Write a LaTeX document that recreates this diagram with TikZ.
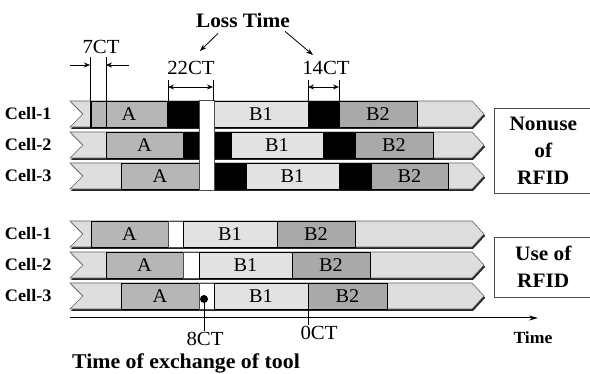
\documentclass[tikz,border=0pt]{standalone}
\usepackage{fontspec}
\setmainfont{Liberation Serif}[FakeStretch=1.04]
\usetikzlibrary{arrows.meta}
\definecolor{barfill}{HTML}{DEDEDE}
\definecolor{partA}{HTML}{B6B6B6}
\definecolor{partBone}{HTML}{E2E2E2}
\definecolor{partBtwo}{HTML}{A9A9A9}

\begin{document}
\begin{tikzpicture}[x=1pt, y=-1pt,
        seg/.style={draw=black, line width=0.8pt, minimum height=26pt, inner sep=0pt,
            font=\fontsize{19.5}{20}\selectfont},
        idle/.style={seg, fill=black},
        gap/.style={seg, fill=white, draw=black!70, line width=0.5pt},
        cell/.style={anchor=east, font=\fontsize{17.5}{19}\selectfont\bfseries},
        ct/.style={inner sep=1pt, font=\fontsize{20}{22}\selectfont},
        dim/.style={{Stealth[length=6pt,width=5pt]}-{Stealth[length=6pt,width=5pt]}, line width=0.8pt},
        ext/.style={line width=0.4pt},
        heading/.style={inner sep=1pt, font=\fontsize{20.5}{22}\selectfont\bfseries},
        side/.style={draw=black!70, line width=0.6pt, align=center, anchor=north west,
            font=\fontsize{20.5}{27}\selectfont\bfseries}]
        \useasboundingbox (0,0) rectangle (590,374);

        % time bars of the three cells, both cases
        \foreach \t in {101,132,163,221,252,283}{
            \fill[black!85, shift={(1.2,1.8)}] (70,\t) -- (472,\t) -- (484,\t+13) -- (472,\t+26) -- (70,\t+26) -- (83,\t+13) -- cycle;
            \draw[fill=barfill, draw=black!60, line width=0.6pt] (70,\t) -- (472,\t) -- (484,\t+13) -- (472,\t+26) -- (70,\t+26) -- (83,\t+13) -- cycle;
        }

        % without RFID
        \node[seg, fill=partA, minimum width=76pt] (a1) at (129,114) {A};
        \node[idle, minimum width=32pt] (k11) at (183,114) {};
        \node[seg, fill=partBone, minimum width=94pt] (b11) at (261,114) {B1};
        \node[idle, minimum width=31pt] (k12) at (323.5,114) {};
        \node[seg, fill=partBtwo, minimum width=78pt] (b12) at (378,114) {B2};

        \node[seg, fill=partA, minimum width=77pt] (a2) at (144.5,145) {A};
        \node[idle, minimum width=16pt] (k21) at (191,145) {};
        \node[idle, minimum width=17pt] (k22) at (222.5,145) {};
        \node[seg, fill=partBone, minimum width=92pt] (b21) at (277,145) {B1};
        \node[idle, minimum width=32pt] (k23) at (339,145) {};
        \node[seg, fill=partBtwo, minimum width=78pt] (b22) at (394,145) {B2};

        \node[seg, fill=partA, minimum width=78pt] (a3) at (160,176) {A};
        \node[idle, minimum width=32pt] (k31) at (230,176) {};
        \node[seg, fill=partBone, minimum width=93pt] (b31) at (292.5,176) {B1};
        \node[idle, minimum width=32pt] (k32) at (355,176) {};
        \node[seg, fill=partBtwo, minimum width=77pt] (b32) at (409.5,176) {B2};

        \node[gap, minimum width=15pt, minimum height=90pt] (tool) at (206.5,145.5) {};

        % with RFID
        \node[seg, fill=partA, minimum width=77pt] (ra1) at (129.5,234) {A};
        \node[gap, minimum width=15pt] (rg1) at (175.5,234) {};
        \node[seg, fill=partBone, minimum width=94pt] (rb11) at (230,234) {B1};
        \node[seg, fill=partBtwo, minimum width=78pt] (rb12) at (316,234) {B2};

        \node[seg, fill=partA, minimum width=77pt] (ra2) at (144.5,265) {A};
        \node[gap, minimum width=16pt] (rg2) at (191,265) {};
        \node[seg, fill=partBone, minimum width=93pt] (rb21) at (245.5,265) {B1};
        \node[seg, fill=partBtwo, minimum width=78pt] (rb22) at (331,265) {B2};

        \node[seg, fill=partA, minimum width=78pt] (ra3) at (160,296) {A};
        \node[gap, minimum width=15pt] (rg3) at (206.5,296) {};
        \node[seg, fill=partBone, minimum width=94pt] (rb31) at (261,296) {B1};
        \node[seg, fill=partBtwo, minimum width=79pt] (rb32) at (347.5,296) {B2};

        % cell names
        \node[cell] (c1) at (55,114) {Cell-1};
        \node[cell] (c2) at (55,145) {Cell-2};
        \node[cell] (c3) at (55,176) {Cell-3};
        \node[cell] (rc1) at (55,234) {Cell-1};
        \node[cell] (rc2) at (55,265) {Cell-2};
        \node[cell] (rc3) at (55,296) {Cell-3};

        % shift of 7CT between the cells
        \coordinate (s1) at (90,57);
        \coordinate (s1b) at (90,128);
        \coordinate (s2) at (106,57);
        \coordinate (s2b) at (106,128);
        \draw[ext] (s1) -- (s1b);
        \draw[ext] (s2) -- (s2b);
        \coordinate (s1l) at (70,65);
        \coordinate (s1r) at (90,65);
        \coordinate (s2l) at (106,65);
        \coordinate (s2r) at (129,65);
        \draw[-{Stealth[length=6pt,width=5pt]}, line width=0.8pt] (s1l) -- (s1r);
        \draw[-{Stealth[length=6pt,width=5pt]}, line width=0.8pt] (s2r) -- (s2l);
        \node[ct] (ct7) at (101,47) {7CT};

        % loss times
        \coordinate (l1) at (168,80);
        \coordinate (l1b) at (168,101);
        \coordinate (l2) at (213,80);
        \coordinate (l2b) at (213,101);
        \coordinate (l3) at (308,80);
        \coordinate (l3b) at (308,101);
        \coordinate (l4) at (339,80);
        \coordinate (l4b) at (339,101);
        \draw[ext] (l1) -- (l1b);
        \draw[ext] (l2) -- (l2b);
        \draw[ext] (l3) -- (l3b);
        \draw[ext] (l4) -- (l4b);
        \draw[dim] (168,87) -- (213,87);
        \draw[dim] (308,87) -- (339,87);
        \node[ct] (ct22) at (191,68) {22CT};
        \node[ct] (ct14) at (326,68) {14CT};

        \node[heading] (loss) at (243,20) {Loss Time};
        \coordinate (p22) at (200,51);
        \coordinate (p14) at (313,55);
        \draw[-{Stealth[length=7pt,width=5pt]}, line width=0.8pt] ([xshift=-25pt, yshift=-5pt]loss.south) -- (p22);
        \draw[-{Stealth[length=7pt,width=5pt]}, line width=0.8pt] ([xshift=-6pt, yshift=-3pt]loss.south east) -- (p14);

        % the two cases
        \node[side, minimum width=98pt, minimum height=85pt] (nonuse) at (494,108) {Nonuse\\of\\RFID};
        \node[side, minimum width=98pt, minimum height=60pt] (use) at (494,237) {Use of\\RFID};

        % time axis
        \coordinate (t0) at (70,318);
        \coordinate (t1) at (538,318);
        \draw[-{Stealth[length=9pt,width=5pt]}, line width=1pt] (t0) -- (t1);
        \node[font=\fontsize{17}{19}\selectfont\bfseries] (time) at (533,338) {Time};

        % exchange of tool
        \coordinate (x8) at (204,299);
        \coordinate (x8b) at (204,331);
        \fill (x8) circle (4pt);
        \draw[line width=0.8pt] (x8) -- (x8b);
        \node[ct] (ct8) at (205,339) {8CT};
        \coordinate (x0) at (308,283);
        \coordinate (x0b) at (308,325);
        \draw[line width=0.8pt] (x0) -- (x0b);
        \node[ct] (ct0) at (319,333) {0CT};
        \node[heading, font=\fontsize{21}{23}\selectfont\bfseries] (exch) at (186,363) {Time of exchange of tool};
\end{tikzpicture}
\end{document}
